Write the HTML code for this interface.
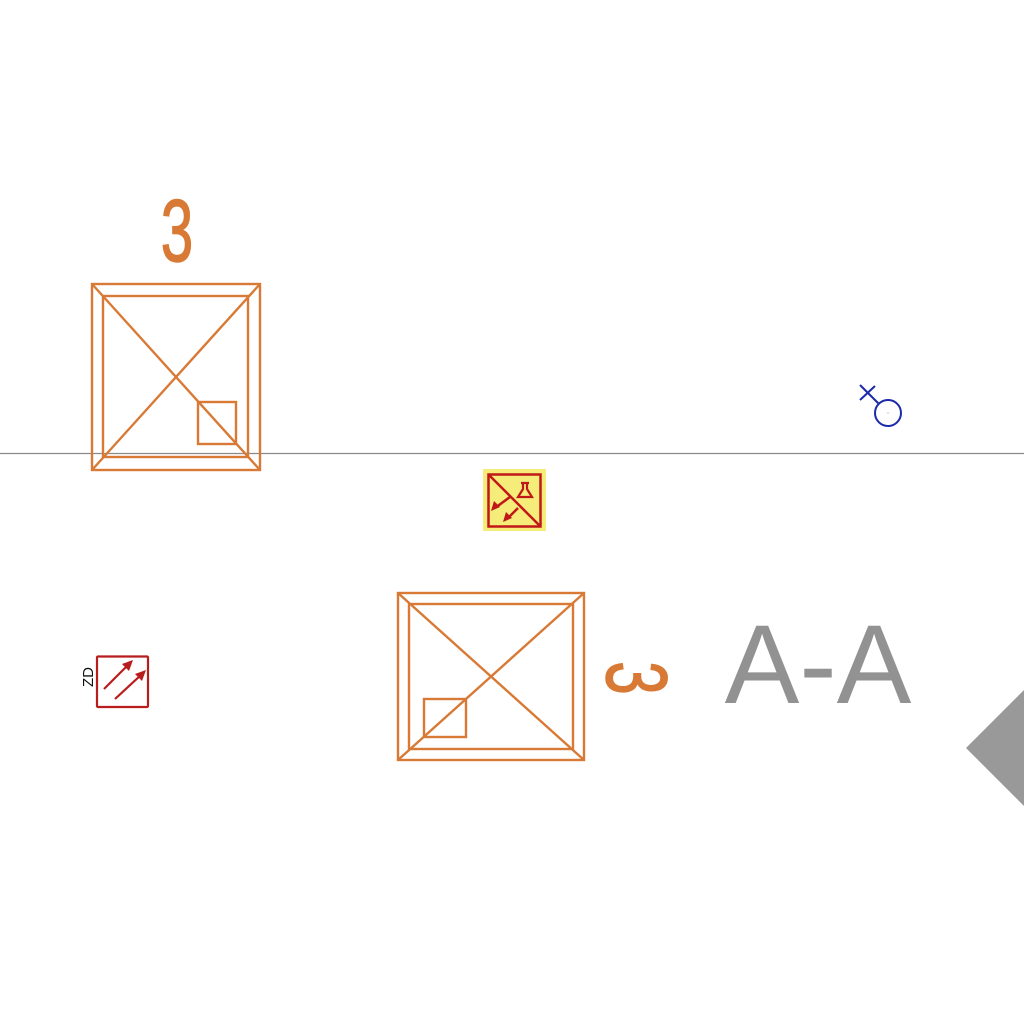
<!DOCTYPE html>
<html><head><meta charset="utf-8"><style>html,body{margin:0;padding:0;background:#fff}svg{display:block}</style></head>
<body>
<svg width="1024" height="1024" viewBox="0 0 1024 1024" xmlns="http://www.w3.org/2000/svg">
<rect width="1024" height="1024" fill="#fff"/>
<line x1="0" y1="453.5" x2="1024" y2="453.5" stroke="#8a8a8a" stroke-width="1.2"/>
<g fill="none" stroke="#d87a35" stroke-width="2.4">
<rect x="92" y="284" width="168" height="186"/>
<rect x="103" y="296" width="145" height="161"/>
<line x1="92" y1="284" x2="260" y2="470"/>
<line x1="260" y1="284" x2="92" y2="470"/>
<rect x="198" y="402" width="38" height="42"/>
</g>
<text x="0" y="0" font-family="Liberation Sans, sans-serif" font-size="88" fill="#d87a35" stroke="#d87a35" stroke-width="1.5" text-anchor="middle" transform="translate(177 261) scale(0.66 1)">3</text>
<g fill="none" stroke="#d87a35" stroke-width="2.4">
<rect x="398" y="593" width="186" height="167"/>
<rect x="409" y="604" width="164" height="145"/>
<line x1="398" y1="593" x2="584" y2="760"/>
<line x1="584" y1="593" x2="398" y2="760"/>
<rect x="424" y="699" width="42" height="38"/>
</g>
<text x="0" y="0" font-family="Liberation Sans, sans-serif" font-size="86" fill="#d87a35" stroke="#d87a35" stroke-width="1.5" text-anchor="middle" transform="translate(607 678) rotate(90) scale(0.7 1)">3</text>
<text x="818" y="703" font-family="Liberation Sans, sans-serif" font-size="112" fill="#929292" text-anchor="middle">A-A</text>
<polygon points="966,748 1024,690 1024,806" fill="#999"/>
<g>
<rect x="483" y="469" width="63" height="62" fill="#f5ec7a"/>
<rect x="488.5" y="474.5" width="52" height="52" fill="none" stroke="#c01818" stroke-width="2.5"/>
<line x1="489" y1="475" x2="540" y2="526" stroke="#c01818" stroke-width="2.5"/>
<path d="M521,483 h8 M523,483 v6 l-5,8 h14 l-5,-8 v-6" fill="none" stroke="#c01818" stroke-width="2.2"/>
<line x1="510" y1="497" x2="495" y2="508" stroke="#c01818" stroke-width="2.5"/>
<polygon points="491,511 494,501 500,507" fill="#c01818"/>
<line x1="518" y1="508" x2="508" y2="518" stroke="#c01818" stroke-width="2.5"/>
<polygon points="503,522 506,512 512,518" fill="#c01818"/>
</g>
<g>
<rect x="97" y="656.5" width="51" height="50.5" fill="none" stroke="#b81c1c" stroke-width="2.2" rx="1"/>
<line x1="104" y1="689" x2="128" y2="665" stroke="#b81c1c" stroke-width="2.2"/>
<polygon points="133,660 122,664 129,671" fill="#b81c1c"/>
<line x1="115" y1="699" x2="141" y2="675" stroke="#b81c1c" stroke-width="2.2"/>
<polygon points="146,670 135,674 142,681" fill="#b81c1c"/>
<text x="0" y="0" font-family="Liberation Sans, sans-serif" font-size="15" fill="#111" text-anchor="middle" transform="translate(93 677) rotate(-90)">ZD</text>
</g>
<g fill="none" stroke="#1a2aa8" stroke-width="2">
<circle cx="888" cy="413" r="13"/>
<line x1="860" y1="385" x2="879" y2="404"/>
<line x1="860" y1="400" x2="875" y2="386"/>
<circle cx="888" cy="413" r="0.6" fill="#999" stroke="none"/>
</g>
</svg>
</body></html>
